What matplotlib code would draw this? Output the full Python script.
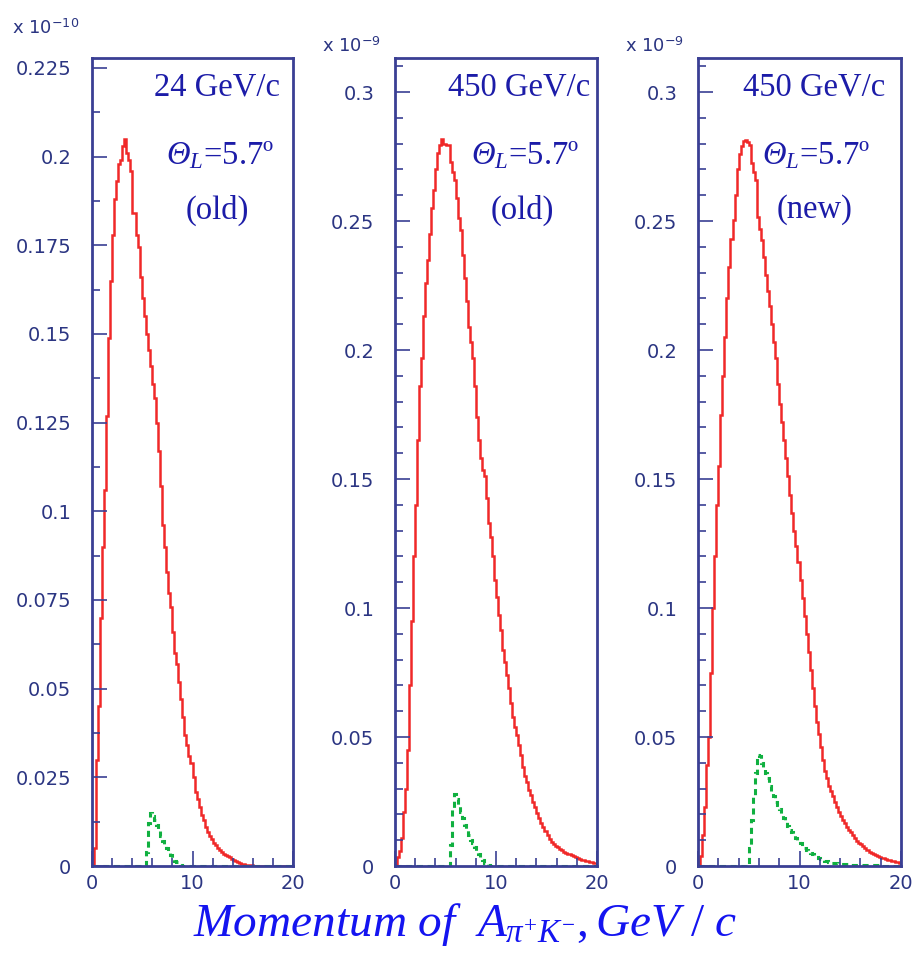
import numpy as np
import matplotlib
matplotlib.use("Agg")
import matplotlib.pyplot as plt
from matplotlib.ticker import MultipleLocator, FuncFormatter

# bin edges, GeV/c (100 bins of 0.2)
edges = np.linspace(0, 20, 101)

# 24 GeV/c, old geometry (units 1e-10)
red_24_old = [
    0.0, 0.005, 0.03, 0.045, 0.07, 0.09, 0.106, 0.127, 0.149, 0.165,
    0.178, 0.188, 0.193, 0.198, 0.199, 0.203, 0.205, 0.201, 0.199, 0.196,
    0.184, 0.184, 0.178, 0.1745, 0.166, 0.160, 0.155, 0.150, 0.1455, 0.141,
    0.136, 0.132, 0.125, 0.117, 0.107, 0.096, 0.090, 0.083, 0.077, 0.073,
    0.066, 0.060, 0.057, 0.052, 0.047, 0.042, 0.037, 0.034, 0.031, 0.029,
    0.025, 0.021, 0.019, 0.0165, 0.0145, 0.013, 0.011, 0.0095, 0.0085, 0.0075,
    0.0066, 0.0058, 0.005, 0.0044, 0.004, 0.0035, 0.0031, 0.0028, 0.0024, 0.002,
    0.0017, 0.0014, 0.0011, 0.0008, 0.0006, 0.0005, 0.0004, 0.0003, 0.0003, 0.0002,
    0.0001, 0, 0, 0, 0, 0, 0, 0, 0, 0,
    0, 0, 0, 0, 0, 0, 0, 0, 0, 0,
]
green_24_old = [
    0, 0, 0, 0, 0, 0, 0, 0, 0, 0,
    0, 0, 0, 0, 0, 0, 0, 0, 0, 0,
    0, 0, 0, 0, 0, 0, 0, 0.004, 0.012, 0.015,
    0.014, 0.013, 0.0115, 0.010, 0.0085, 0.007, 0.006, 0.005, 0.004, 0.003,
    0.0023, 0.0015, 0.001, 0.0005, 0.0002, 0, 0, 0, 0, 0,
    0, 0, 0, 0, 0, 0, 0, 0, 0, 0,
    0, 0, 0, 0, 0, 0, 0, 0, 0, 0,
    0, 0, 0, 0, 0, 0, 0, 0, 0, 0,
    0, 0, 0, 0, 0, 0, 0, 0, 0, 0,
    0, 0, 0, 0, 0, 0, 0, 0, 0, 0,
]

# 450 GeV/c, old geometry (units 1e-9)
red_450_old = [
    0, 0.0035, 0.006, 0.011, 0.021, 0.03, 0.045, 0.07, 0.095, 0.12,
    0.14, 0.165, 0.186, 0.197, 0.213, 0.226, 0.235, 0.245, 0.255, 0.262,
    0.270, 0.2765, 0.2795, 0.2818, 0.280, 0.2795, 0.2795, 0.273, 0.269, 0.266,
    0.259, 0.251, 0.2465, 0.237, 0.228, 0.219, 0.209, 0.203, 0.197, 0.186,
    0.174, 0.165, 0.158, 0.1535, 0.151, 0.1426, 0.133, 0.1275, 0.12, 0.111,
    0.1043, 0.0973, 0.0915, 0.0837, 0.079, 0.074, 0.069, 0.063, 0.0578, 0.054,
    0.0508, 0.047, 0.043, 0.0384, 0.035, 0.0326, 0.0295, 0.0275, 0.025, 0.0229,
    0.0205, 0.0186, 0.0168, 0.0151, 0.0135, 0.012, 0.0106, 0.0093, 0.0085, 0.0078,
    0.0074, 0.0067, 0.0061, 0.0056, 0.0052, 0.0048, 0.0045, 0.0041, 0.0037, 0.0034,
    0.0031, 0.0028, 0.0025, 0.0023, 0.0021, 0.0019, 0.0017, 0.0015, 0.0013, 0.0012,
]
green_450_old = [
    0, 0, 0, 0, 0, 0, 0, 0, 0, 0,
    0, 0, 0, 0, 0, 0, 0, 0, 0, 0,
    0, 0, 0, 0, 0, 0, 0, 0.008, 0.022, 0.028,
    0.026, 0.0235, 0.021, 0.0185, 0.016, 0.0138, 0.012, 0.0102, 0.0088, 0.0073,
    0.006, 0.0048, 0.0035, 0.0022, 0.0013, 0.0006, 0.0002, 0, 0, 0,
    0, 0, 0, 0, 0, 0, 0, 0, 0, 0,
    0, 0, 0, 0, 0, 0, 0, 0, 0, 0,
    0, 0, 0, 0, 0, 0, 0, 0, 0, 0,
    0, 0, 0, 0, 0, 0, 0, 0, 0, 0,
    0, 0, 0, 0, 0, 0, 0, 0, 0, 0,
]

# 450 GeV/c, new geometry (units 1e-9)
red_450_new = [
    0, 0.004, 0.012, 0.023, 0.039, 0.05, 0.075, 0.10, 0.12, 0.14,
    0.155, 0.175, 0.19, 0.205, 0.22, 0.232, 0.243, 0.2505, 0.26, 0.27,
    0.276, 0.279, 0.281, 0.2815, 0.2805, 0.2795, 0.2725, 0.269, 0.266, 0.2515,
    0.247, 0.2426, 0.236, 0.229, 0.223, 0.217, 0.21, 0.203, 0.197, 0.187,
    0.179, 0.172, 0.165, 0.158, 0.151, 0.144, 0.137, 0.130, 0.124, 0.118,
    0.111, 0.104, 0.097, 0.090, 0.083, 0.076, 0.069, 0.062, 0.056, 0.051,
    0.046, 0.041, 0.037, 0.034, 0.031, 0.029, 0.027, 0.025, 0.023, 0.021,
    0.0195, 0.0178, 0.0165, 0.0152, 0.014, 0.013, 0.012, 0.011, 0.0098, 0.009,
    0.0084, 0.0076, 0.0069, 0.0062, 0.0055, 0.005, 0.0046, 0.0042, 0.0038, 0.0035,
    0.0032, 0.003, 0.0027, 0.0025, 0.0023, 0.002, 0.0018, 0.0016, 0.0014, 0.0012,
]
green_450_new = [
    0, 0, 0, 0, 0, 0, 0, 0, 0, 0,
    0, 0, 0, 0, 0, 0, 0, 0, 0, 0,
    0, 0, 0, 0, 0, 0.007, 0.018, 0.027, 0.036, 0.043,
    0.0425, 0.040, 0.038, 0.036, 0.034, 0.031, 0.029, 0.027, 0.025, 0.0235,
    0.022, 0.020, 0.0185, 0.017, 0.0155, 0.014, 0.013, 0.012, 0.011, 0.0098,
    0.0088, 0.0078, 0.007, 0.0063, 0.0057, 0.0051, 0.0045, 0.004, 0.0035, 0.0031,
    0.0027, 0.0023, 0.002, 0.0018, 0.0015, 0.0013, 0.0012, 0.0011, 0.001, 0.0009,
    0.0008, 0.0008, 0.0007, 0.0006, 0.0005, 0.0005, 0.0004, 0.0004, 0.0003, 0.0003,
    0.0002, 0.0002, 0.0002, 0.0002, 0.0002, 0.0002, 0.0002, 0.0002, 0.0002, 0.0002,
    0.0001, 0.0001, 0.0001, 0.0001, 0.0001, 0.0001, 0.0001, 0.0001, 0.0001, 0.0001,
]

energies = ["24 GeV/c", "450 GeV/c", "450 GeV/c"]
versions = ["(old)", "(old)", "(new)"]
exponents = ["-10", "-9", "-9"]
ymax = [0.2278, 0.3132, 0.3132]
ymajor = [0.025, 0.05, 0.05]
yminor = [0.0125, 0.01, 0.01]

reds = [red_24_old, red_450_old, red_450_new]
greens = [green_24_old, green_450_old, green_450_new]

navy = "#3a3f94"
labnavy = "#2b3582"
textblue = "#1c1ca8"

plt.rcParams["mathtext.fontset"] = "custom"
plt.rcParams["mathtext.rm"] = "Liberation Serif"
plt.rcParams["mathtext.it"] = "Liberation Serif:italic"
# 'it' keeps capital Greek upright, so use cal slot for an italic Theta
plt.rcParams["mathtext.cal"] = "Liberation Serif:italic"

fig = plt.figure(figsize=(9.13, 9.59), dpi=100)
W, H = 913.0, 959.0

# layout in pixels
lefts = [92, 395, 698]
widths = [201, 202, 203]
energy_right = [280, 590, 885]
theta_x = [220, 525, 816]
version_x = [217, 522, 815]
mult_x = [12, 322, 625]
mult_y = [28, 46, 46]

for i in range(3):
    ax = fig.add_axes([lefts[i] / W, 93 / H, widths[i] / W, 808 / H])
    ax.stairs(reds[i], edges, color="#f02828", lw=1.8)
    ax.stairs(greens[i], edges, color="#10b040", lw=2.2, ls=(0, (2, 1.5)))
    ax.set_xlim(0, 20)
    ax.set_ylim(0, ymax[i])
    for s in ax.spines.values():
        s.set_color(navy)
        s.set_linewidth(2.0)
    ax.xaxis.set_major_locator(MultipleLocator(10))
    ax.xaxis.set_minor_locator(MultipleLocator(2))
    ax.yaxis.set_major_locator(MultipleLocator(ymajor[i]))
    ax.yaxis.set_minor_locator(MultipleLocator(yminor[i]))
    ax.yaxis.set_major_formatter(FuncFormatter(lambda v, p: "%g" % round(v, 4)))
    ax.tick_params(which="both", direction="in", color=navy, width=1.2,
                   labelcolor=labnavy, labelsize=14)
    ax.tick_params(which="major", length=11)
    ax.tick_params(which="minor", length=6)
    ax.tick_params(axis="y", pad=15)
    ax.tick_params(axis="x", pad=6)
    for lab in ax.get_xticklabels() + ax.get_yticklabels():
        lab.set_family("DejaVu Sans")

    fig.text(energy_right[i] / W, 1 - 87 / H, energies[i], ha="right",
             va="center", family="Liberation Serif", fontsize=23.5, color=textblue)
    fig.text(theta_x[i] / W, 1 - 155 / H, r"$\mathcal{Θ}_{\mathit{L}}$=5.7º",
             ha="center", va="center", family="Liberation Serif", fontsize=23.5,
             color=textblue)
    fig.text(version_x[i] / W, 1 - 210 / H, versions[i], ha="center",
             va="center", family="Liberation Serif", fontsize=23.5, color=textblue)

    fig.text(mult_x[i] / W, 1 - mult_y[i] / H,
             "x 10$^{\\mathregular{%s}}$" % exponents[i].replace("-", "\u2212"),
             family="DejaVu Sans", fontsize=13, color=labnavy, va="center")

fig.text(465 / W, 1 - 925 / H,
         r"$\mathit{Momentum\ of\ \ A_{\pi^{+}K^{-}},GeV\ /\ c}$",
         ha="center", va="center", fontsize=34, color="#1414f0")

fig.savefig("out.png", dpi=100)
